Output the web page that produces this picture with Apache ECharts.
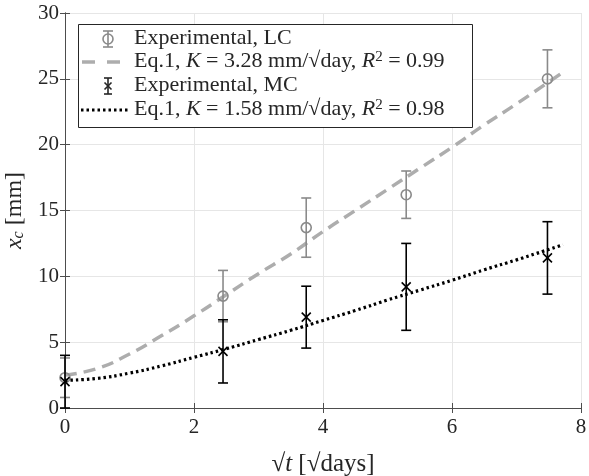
<!DOCTYPE html>
<html>
<head>
<meta charset="utf-8">
<script src="https://cdn.jsdelivr.net/npm/echarts@6/dist/echarts.min.js"></script>
<style>
  html, body { margin: 0; padding: 0; background: #fff; }
  #chart { width: 589px; height: 476px; }
</style>
</head>
<body>
<div id="chart"></div>
<script>
// measured points: sqrt(days) positions
var sqrtT = [0, 2.45, 3.74, 5.29, 7.48];
// LC (gray circles)
var lcMean = [2.3, 8.5, 13.7, 16.2, 25.0];
var lcErr = [1.5, 1.95, 2.25, 1.8, 2.2];
// MC (black crosses)
var mcMean = [2.0, 4.3, 6.9, 9.2, 11.4];
var mcErr = [2.0, 2.4, 2.35, 3.3, 2.75];

// Eq.1 curves
var fitX = [0, 0.5, 1, 1.5, 2, 2.5, 3, 3.5, 4, 4.5, 5, 5.5, 6, 6.5, 7, 7.72];
var fitLC = [2.5, 3.0, 4.1, 5.5, 7.0, 8.6, 10.2, 11.7, 13.4, 15.0, 16.6, 18.2, 19.8, 21.5, 23.1, 25.5];
var fitMC = [2.1, 2.25, 2.65, 3.2, 3.85, 4.5, 5.2, 5.9, 6.65, 7.4, 8.2, 8.95, 9.7, 10.5, 11.25, 12.4];

// legend rows
var legendLabels = [
  '{n|Experimental, LC}',
  '{n|Eq.1, }{i|K}{n| = 3.28 mm/√day, }{i|R}{sup|2}{n| = 0.99}',
  '{n|Experimental, MC}',
  '{n|Eq.1, }{i|K}{n| = 1.58 mm/√day, }{i|R}{sup|2}{n| = 0.98}'
];
var rowY = [39, 62, 86, 110];

var serif = 'Liberation Serif';
var GRAY = '#8a8a8a';
var LGRAY = '#adadad';
var INK = '#262626';

function pairs(xs, ys) {
  return xs.map(function (x, i) { return [x, ys[i]]; });
}
function errRows(means, errs) {
  return sqrtT.map(function (x, i) {
    return [x, means[i], means[i] - errs[i], means[i] + errs[i]];
  });
}

// error bar with marker, drawn through the axes
function errBar(color, mark) {
  return function (params, api) {
    var x = api.value(0);
    var p = api.coord([x, api.value(1)]);
    var lo = api.coord([x, api.value(2)]);
    var hi = api.coord([x, api.value(3)]);
    var st = { stroke: color, lineWidth: 1.6, fill: null };
    var c = 5;
    var kids = [
      { type: 'line', shape: { x1: lo[0], y1: lo[1], x2: hi[0], y2: hi[1] }, style: st },
      { type: 'line', shape: { x1: lo[0] - c, y1: lo[1], x2: lo[0] + c, y2: lo[1] }, style: st },
      { type: 'line', shape: { x1: hi[0] - c, y1: hi[1], x2: hi[0] + c, y2: hi[1] }, style: st }
    ];
    if (mark === 'o') {
      kids.push({ type: 'circle', shape: { cx: p[0], cy: p[1], r: 5 }, style: st });
    } else {
      var m = 4.5;
      kids.push({ type: 'line', shape: { x1: p[0] - m, y1: p[1] - m, x2: p[0] + m, y2: p[1] + m }, style: st });
      kids.push({ type: 'line', shape: { x1: p[0] - m, y1: p[1] + m, x2: p[0] + m, y2: p[1] - m }, style: st });
    }
    return { type: 'group', children: kids };
  };
}

var LF = 22;
var txtRich = {
  n: { fontFamily: serif, fontSize: LF, color: INK },
  i: { fontFamily: serif, fontSize: LF, fontStyle: 'italic', color: INK },
  sup: { fontFamily: serif, fontSize: 15, color: INK, verticalAlign: 'top', padding: [0, 0, 8, 0] }
};

// legend text goes through title components so the rich fonts apply
var titles = legendLabels.map(function (t, i) {
  return {
    text: t, left: 134, top: rowY[i] - 12, padding: 0, z: 20,
    textStyle: { fontFamily: serif, fontSize: LF, fontWeight: 'normal', color: INK, rich: txtRich }
  };
});

function st(color, w) { return { stroke: color, lineWidth: w, fill: null }; }

var lgX = 108;
var legend = [
  { type: 'rect', left: 78, top: 24, z: 15, shape: { width: 394, height: 103 }, style: { fill: '#fff', stroke: INK, lineWidth: 1 } },
  // row 1: LC errorbar icon
  { type: 'line', z: 21, shape: { x1: lgX, y1: 31, x2: lgX, y2: 47 }, style: st(GRAY, 1.6) },
  { type: 'line', z: 21, shape: { x1: lgX - 5, y1: 31, x2: lgX + 5, y2: 31 }, style: st(GRAY, 1.6) },
  { type: 'line', z: 21, shape: { x1: lgX - 5, y1: 47, x2: lgX + 5, y2: 47 }, style: st(GRAY, 1.6) },
  { type: 'circle', z: 21, shape: { cx: lgX, cy: 39, r: 5 }, style: st(GRAY, 1.6) },
  // row 2: dashed
  { type: 'line', z: 21, shape: { x1: 82, y1: 62, x2: 95, y2: 62 }, style: st(LGRAY, 3.5) },
  { type: 'line', z: 21, shape: { x1: 107, y1: 62, x2: 120, y2: 62 }, style: st(LGRAY, 3.5) },
  // row 3: MC errorbar icon
  { type: 'line', z: 21, shape: { x1: lgX, y1: 78, x2: lgX, y2: 94 }, style: st(INK, 1.6) },
  { type: 'line', z: 21, shape: { x1: lgX - 4, y1: 78, x2: lgX + 4, y2: 78 }, style: st(INK, 1.6) },
  { type: 'line', z: 21, shape: { x1: lgX - 4, y1: 94, x2: lgX + 4, y2: 94 }, style: st(INK, 1.6) },
  { type: 'line', z: 21, shape: { x1: lgX - 3.5, y1: 82.5, x2: lgX + 3.5, y2: 89.5 }, style: st(INK, 1.6) },
  { type: 'line', z: 21, shape: { x1: lgX - 3.5, y1: 89.5, x2: lgX + 3.5, y2: 82.5 }, style: st(INK, 1.6) },
  // row 4: dotted
  { type: 'line', z: 21, shape: { x1: 81, y1: 110, x2: 128, y2: 110 }, style: { stroke: '#000', lineWidth: 3, lineDash: [2.5, 3], fill: null } }
];

var axisLine = { show: true, lineStyle: { color: '#4d4d4d', width: 1 } };
var tick = { show: true, inside: true, length: 5, lineStyle: { color: '#4d4d4d' } };
var lab = { color: INK, fontFamily: serif, fontSize: 21 };

var chart = echarts.init(document.getElementById('chart'));
chart.setOption({
  backgroundColor: '#fff',
  animation: false,
  textStyle: { fontFamily: serif },
  title: titles,
  grid: { left: 65, right: 8, top: 13, bottom: 68, outerBoundsMode: 'none' },
  xAxis: [{
    type: 'value', min: 0, max: 8, interval: 2,
    axisLine: axisLine, axisTick: tick,
    axisLabel: Object.assign({ margin: 9 }, lab),
    splitLine: { show: true, lineStyle: { color: '#e6e6e6' } },
    name: '{n|√}{i|t}{n| [√days]}', nameLocation: 'middle', nameGap: 44,
    nameTextStyle: { fontFamily: serif, fontSize: 25, rich: { n: { fontFamily: serif, fontSize: 25, color: INK }, i: { fontFamily: serif, fontSize: 25, fontStyle: 'italic', color: INK } } }
  }, {
    type: 'value', position: 'top', min: 0, max: 8, interval: 2,
    axisLine: axisLine, axisTick: tick, axisLabel: { show: false }, splitLine: { show: false }
  }],
  yAxis: [{
    type: 'value', min: 0, max: 30, interval: 5,
    axisLine: axisLine, axisTick: tick,
    axisLabel: Object.assign({ margin: 6 }, lab),
    splitLine: { show: true, lineStyle: { color: '#e6e6e6' } },
    name: '{i|x}{sub|c}{n| [mm]}', nameLocation: 'middle', nameGap: 27, nameRotate: 90,
    nameTextStyle: { fontFamily: serif, fontSize: 24, rich: {
      n: { fontFamily: serif, fontSize: 24, color: INK },
      i: { fontFamily: serif, fontSize: 24, fontStyle: 'italic', color: INK },
      sub: { fontFamily: serif, fontSize: 16, fontStyle: 'italic', color: INK, verticalAlign: 'bottom', padding: [8, 0, 0, 0] }
    } }
  }, {
    type: 'value', position: 'right', min: 0, max: 30, interval: 5,
    axisLine: axisLine, axisTick: tick, axisLabel: { show: false }, splitLine: { show: false }
  }],
  graphic: legend,
  series: [
    {
      name: 'Eq.1 LC', type: 'line', data: pairs(fitX, fitLC), smooth: true, symbol: 'none',
      lineStyle: { color: LGRAY, width: 3.5, type: [12, 7] }, z: 3
    },
    {
      name: 'Experimental, LC', type: 'custom', data: errRows(lcMean, lcErr),
      renderItem: errBar(GRAY, 'o'), encode: { x: 0, y: 1 }, z: 4
    },
    {
      name: 'Experimental, MC', type: 'custom', data: errRows(mcMean, mcErr),
      renderItem: errBar('#000', 'x'), encode: { x: 0, y: 1 }, z: 5
    },
    {
      name: 'Eq.1 MC', type: 'line', data: pairs(fitX, fitMC), smooth: true, symbol: 'none',
      lineStyle: { color: '#000', width: 3.2, type: [2.5, 3] }, z: 6
    }
  ]
});
</script>
</body>
</html>
